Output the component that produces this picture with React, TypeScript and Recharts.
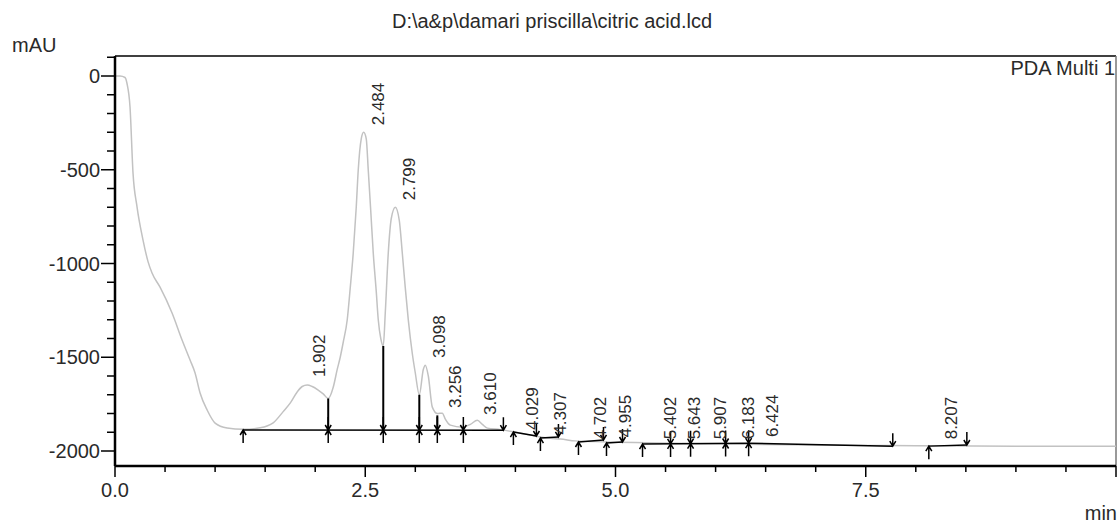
import React from 'react';
import { ComposedChart, Line, XAxis, YAxis, Scatter, ReferenceLine } from 'recharts';

// ---- chromatogram trace (min, mAU) ----
const times = [0, 0.05, 0.10, 0.12, 0.15, 0.18, 0.22, 0.28, 0.33, 0.37, 0.45, 0.57, 0.67, 0.75, 0.80, 0.85, 0.92, 1.00, 1.12, 1.28, 1.45, 1.58, 1.68, 1.75, 1.82, 1.87, 1.92, 1.97, 2.03, 2.08, 2.13, 2.18, 2.22, 2.25, 2.28, 2.32, 2.35, 2.38, 2.41, 2.43, 2.46, 2.484, 2.51, 2.53, 2.555, 2.58, 2.61, 2.63, 2.655, 2.68, 2.70, 2.73, 2.76, 2.80, 2.84, 2.87, 2.90, 2.93, 2.97, 3.00, 3.04, 3.08, 3.10, 3.13, 3.17, 3.22, 3.27, 3.30, 3.35, 3.47, 3.55, 3.62, 3.67, 3.72, 3.85, 3.95, 4.05, 4.15, 4.25, 4.35, 4.45, 4.6, 4.8, 5.0, 5.3, 5.6, 6.0, 6.5, 7.0, 7.5, 8.0, 9.0, 10.0];
const signal = [0, 0, -8, -40, -165, -518, -698, -875, -990, -1051, -1126, -1264, -1408, -1515, -1584, -1691, -1781, -1851, -1877, -1884, -1876, -1850, -1790, -1745, -1685, -1656, -1648, -1656, -1675, -1695, -1720, -1660, -1565, -1500, -1420, -1300, -1130, -944, -700, -501, -335, -300, -335, -501, -720, -944, -1150, -1300, -1400, -1440, -1264, -944, -760, -700, -770, -944, -1130, -1301, -1480, -1584, -1700, -1565, -1542, -1600, -1766, -1800, -1798, -1830, -1862, -1873, -1858, -1836, -1858, -1878, -1886, -1895, -1905, -1915, -1925, -1932, -1936, -1946, -1950, -1953, -1956, -1959, -1962, -1965, -1968, -1970, -1972, -1974, -1975];

// ---- peak labels ----
const peakTimes = [1.902, 2.484, 2.799, 3.098, 3.256, 3.610, 4.029, 4.307, 4.702, 4.955, 5.402, 5.643, 5.907, 6.183, 6.424, 8.207];
const peakLabelLevels = [-1643, -300, -700, -1541, -1808, -1845, -1925, -1950, -1975, -1965, -1975, -1975, -1975, -1975, -1963, -1975];

// ---- integration baselines ----
const segStartT = [1.28, 3.98, 4.25, 4.63, 4.91, 5.27, 6.33, 8.13];
const segStartV = [-1888, -1899, -1931, -1952, -1957, -1963, -1958, -1974];
const segEndT = [3.88, 4.21, 4.43, 4.88, 5.07, 6.33, 7.77, 8.51];
const segEndV = [-1889, -1920, -1925, -1941, -1952, -1958, -1974, -1968];

// ---- drop lines ----
const dropT = [2.13, 2.68, 3.04, 3.22];
const dropTop = [-1720, -1440, -1700, -1810];
const dropBottom = [-1888, -1888, -1888, -1888];

// ---- markers ----
const upT = [1.28, 3.98, 4.25, 4.63, 4.91, 5.27, 8.13];
const upV = [-1888, -1899, -1931, -1952, -1957, -1963, -1974];
const downT = [3.88, 4.21, 4.43, 4.88, 5.07, 7.77, 8.51];
const downV = [-1889, -1920, -1925, -1941, -1952, -1974, -1968];
const bothT = [2.13, 2.68, 3.04, 3.22, 3.48, 5.55, 5.75, 6.10, 6.33];
const bothV = [-1888, -1888, -1888, -1888, -1888, -1962, -1961, -1960, -1958];

// ---- axes ----
const xTicks = [0, 0.5, 1, 1.5, 2, 2.5, 3, 3.5, 4, 4.5, 5, 5.5, 6, 6.5, 7, 7.5, 8, 8.5, 9, 9.5, 10];
const xLabelled = [0, 2.5, 5, 7.5];
const yTicks = [-2000, -1900, -1800, -1700, -1600, -1500, -1400, -1300, -1200, -1100, -1000, -900, -800, -700, -600, -500, -400, -300, -200, -100, 0, 100];
const yLabelled = [-2000, -1500, -1000, -500, 0];
const xDomain: [number, number] = [0, 10];
const yDomain: [number, number] = [-2080, 106.7];

const FONT = '"Liberation Sans", Arial, sans-serif';
const TXT = '#2a2a2a';

const curveData = times.map((t, i) => ({ t, v: signal[i] }));
const labelData = peakTimes.map((t, i) => ({ t, v: peakLabelLevels[i], label: t.toFixed(3) }));
const arrowData = [
  ...upT.map((t, i) => ({ t, v: upV[i], kind: 'up' })),
  ...downT.map((t, i) => ({ t, v: downV[i], kind: 'down' })),
  ...bothT.map((t, i) => ({ t, v: bothV[i], kind: 'both' })),
];

const XTick = (props: any) => {
  const { x, y, payload } = props;
  const val = payload.value as number;
  const major = Math.abs(val % 2.5) < 1e-9;
  return (
    <g>
      <line x1={x} x2={x} y1={y} y2={y + (major ? 11 : 6)} stroke="#000" strokeWidth={1.5} />
      {xLabelled.includes(val) && (
        <text x={x} y={y + 31} textAnchor="middle" fontSize={20} fill={TXT} fontFamily={FONT}>
          {val.toFixed(1)}
        </text>
      )}
    </g>
  );
};

const YTick = (props: any) => {
  const { x, y, payload } = props;
  const val = payload.value as number;
  const major = val % 500 === 0;
  return (
    <g>
      <line x1={x - (major ? 14 : 8)} x2={x} y1={y} y2={y} stroke="#000" strokeWidth={1.5} />
      {yLabelled.includes(val) && (
        <text x={x - 15} y={y + 7} textAnchor="end" fontSize={20} fill={TXT} fontFamily={FONT}>
          {String(val)}
        </text>
      )}
    </g>
  );
};

const ArrowShape = (props: any) => {
  const { cx, cy, payload } = props;
  if (cx == null || cy == null) return <g />;
  const k = payload.kind;
  const parts: string[] = [];
  if (k === 'up' || k === 'both') {
    parts.push(`M${cx},${cy} L${cx},${cy + 13} M${cx - 3},${cy + 5} L${cx},${cy} L${cx + 3},${cy + 5}`);
  }
  if (k === 'down' || k === 'both') {
    parts.push(`M${cx},${cy} L${cx},${cy - 13} M${cx - 3},${cy - 5} L${cx},${cy} L${cx + 3},${cy - 5}`);
  }
  return <path d={parts.join(' ')} stroke="#000" strokeWidth={1.5} fill="none" />;
};

const LabelShape = (props: any) => {
  const { cx, cy, payload } = props;
  if (cx == null || cy == null) return <g />;
  const ax = cx + 20;
  const ay = cy - 7;
  return (
    <text x={ax} y={ay} transform={`rotate(-90 ${ax} ${ay})`} fontSize={17} fill={TXT} fontFamily={FONT}>
      {payload.label}
    </text>
  );
};

export default function App() {
  return (
    <div style={{ position: 'relative', width: 1119, height: 525, background: '#fff' }}>
      <style>{'body{margin:0;background:#fff}'}</style>
      <ComposedChart
        width={1119}
        height={525}
        data={curveData}
        margin={{ top: 56, right: 3, bottom: 29, left: 0 }}
      >
        <XAxis
          dataKey="t"
          type="number"
          domain={xDomain}
          allowDataOverflow
          ticks={xTicks}
          interval={0}
          tickSize={0}
          tickMargin={0}
          tickLine={false}
          tick={(p: any) => <XTick {...p} />}
          axisLine={{ stroke: '#000', strokeWidth: 2.5 }}
          height={30}
        />
        <YAxis
          type="number"
          domain={yDomain}
          allowDataOverflow
          ticks={yTicks}
          interval={0}
          tickSize={0}
          tickMargin={0}
          tickLine={false}
          tick={(p: any) => <YTick {...p} />}
          axisLine={{ stroke: '#000', strokeWidth: 2.5 }}
          width={115}
        />
        <ReferenceLine y={yDomain[1]} stroke="#000" strokeWidth={1.5} />
        <ReferenceLine x={xDomain[1]} stroke="#777" strokeWidth={1.5} />
        <Line
          dataKey="v"
          type="monotone"
          stroke="#c2c2c2"
          strokeWidth={1.5}
          dot={false}
          activeDot={false}
          isAnimationActive={false}
        />
        {segStartT.map((t, i) => (
          <ReferenceLine
            key={`seg${i}`}
            segment={[{ x: t, y: segStartV[i] }, { x: segEndT[i], y: segEndV[i] }]}
            stroke="#000"
            strokeWidth={1.5}
          />
        ))}
        {dropT.map((t, i) => (
          <ReferenceLine
            key={`drop${i}`}
            segment={[{ x: t, y: dropTop[i] }, { x: t, y: dropBottom[i] }]}
            stroke="#000"
            strokeWidth={2}
          />
        ))}
        <Scatter data={arrowData} dataKey="v" shape={(p: any) => <ArrowShape {...p} />} isAnimationActive={false} legendType="none" />
        <Scatter data={labelData} dataKey="v" shape={(p: any) => <LabelShape {...p} />} isAnimationActive={false} legendType="none" />
      </ComposedChart>
      <svg width={1119} height={525} style={{ position: 'absolute', left: 0, top: 0, pointerEvents: 'none' }}>
        <text x={552} y={28} textAnchor="middle" fontSize={20} fill={TXT} fontFamily={FONT}>
          {'D:\\a&p\\damari priscilla\\citric acid.lcd'}
        </text>
        <text x={12} y={52} fontSize={20} fill={TXT} fontFamily={FONT}>mAU</text>
        <text x={1117} y={520} textAnchor="end" fontSize={20} fill={TXT} fontFamily={FONT}>min</text>
        <text x={1115} y={75} textAnchor="end" fontSize={20} fill={TXT} fontFamily={FONT}>PDA Multi 1</text>
      </svg>
    </div>
  );
}
